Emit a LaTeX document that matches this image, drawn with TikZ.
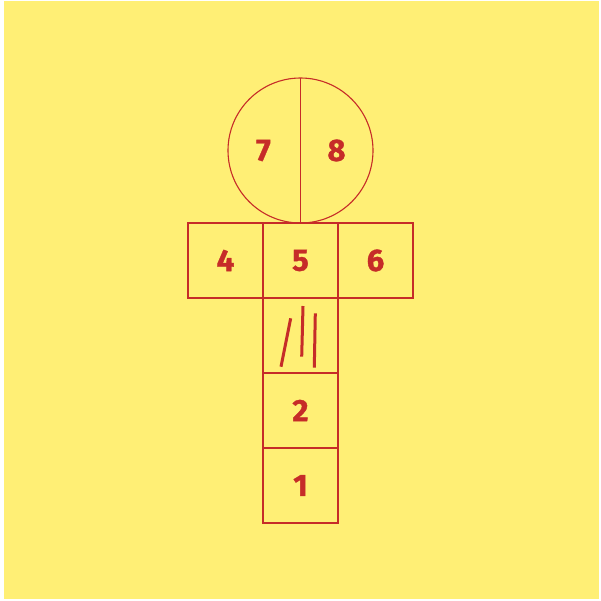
\documentclass[tikz,border=0pt]{standalone}
\usepackage{fontspec}
\setsansfont{Fira Sans}[BoldFeatures={FakeBold=1.2}]
\usepackage{tikz}
\definecolor{hopred}{RGB}{198,44,40}
\definecolor{hopyellow}{RGB}{255,239,117}
\usetikzlibrary{positioning, calc}
\tikzset{
    hopbox/.style={draw=hopred, line width=1.1pt, minimum size=75pt, inner sep=0pt, outer sep=0pt,
                   text=hopred, font=\sffamily\bfseries\fontsize{31}{36}\selectfont},
    hoplabel/.style={text=hopred, font=\sffamily\bfseries\fontsize{31}{36}\selectfont},
    hopline/.style={draw=hopred, line width=1.1pt},
    hopchalk/.style={draw=hopred, line width=3pt}
}

\begin{document}
\begin{tikzpicture}[x=1pt, y=-1pt]
  \useasboundingbox (0,0) rectangle (601,600);
  \fill[hopyellow] (4,1) rectangle (599,599);
  % bottom row up to the cross
  \node[hopbox] (one) at (300.5,485.5) {1};
  \node[hopbox, above=0pt of one]   (two)   {2};
  \node[hopbox, above=0pt of two]   (three) {};
  \node[hopbox, above=0pt of three] (five)  {5};
  \node[hopbox, left=0pt of five]   (four)  {4};
  \node[hopbox, right=0pt of five]  (six)   {6};
  % the round head
  \node[circle, hopline, minimum size=145pt, inner sep=0pt, outer sep=0pt, above=0pt of five] (head) {};
  \draw[hopline] (head.north) -- (head.south);
  \node[hoplabel] (seven) at ($(head.center)+(-37,0)$) {7};
  \node[hoplabel] (eight) at ($(head.center)+(36,0)$) {8};
  % chalk marks for the 3
  \draw[hopchalk] (290.7,318.3) -- (281,366.7);
  \draw[hopchalk] (303,306) -- (301.7,356.7);
  \draw[hopchalk] (315.3,313.3) -- (314.3,367.7);
\end{tikzpicture}
\end{document}
